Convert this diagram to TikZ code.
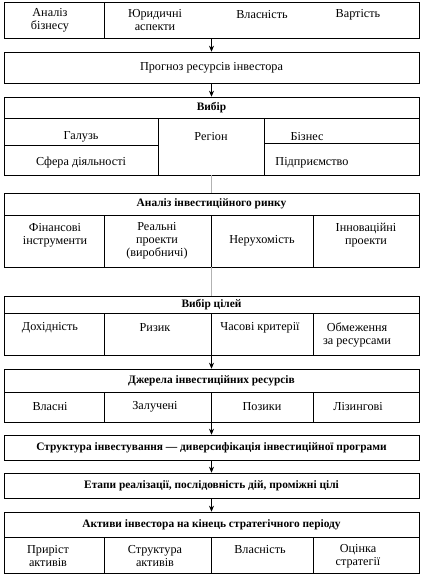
\documentclass[tikz,border=0pt]{standalone}
\usepackage{fontspec}
\setmainfont{Liberation Serif}
\usetikzlibrary{arrows.meta}

\begin{document}
\begin{tikzpicture}[x=1pt,y=-1pt,>={Stealth[length=6pt,width=5pt]},line width=0.6pt,
    box/.style={draw,minimum width=415pt,inner sep=0pt},
    cell/.style={align=center,inner sep=0pt,font=\fontsize{12.2}{13}\selectfont},
    head/.style={inner sep=0pt,font=\fontsize{11.4}{13}\selectfont\bfseries},
    arr/.style={->},
    link/.style={line width=0.4pt,gray!60}]
  \useasboundingbox (0,0) rectangle (426,574);
  % main boxes
  \node[box,minimum height=36pt] (b1) at (211.5,20) {};
  \node[box,minimum height=31pt] (b2) at (211.5,67.5) {};
  \node[box,minimum height=78pt] (b3) at (211.5,136) {};
  \node[box,minimum height=74pt] (b4) at (211.5,230) {};
  \node[box,minimum height=59pt] (b5) at (211.5,325.5) {};
  \node[box,minimum height=53pt] (b6) at (211.5,395.5) {};
  \node[box,minimum height=25pt] (b7) at (211.5,447.5) {};
  \node[box,minimum height=25pt] (b8) at (211.5,485.5) {};
  \node[box,minimum height=61pt] (b9) at (211.5,542.5) {};
  % inner lines
  \draw (104,2) -- (104,38);
  \draw (4,118) -- (419,118) (158,118) -- (158,175) (264,118) -- (264,175)
    (4,145) -- (158,145) (264,143) -- (419,143);
  \draw (4,215) -- (419,215);
  \draw (4,313) -- (419,313);
  \draw (4,392) -- (419,392);
  \draw (4,537) -- (419,537);
  \foreach \y/\z in {215/267,313/355,392/422,537/573}
    \draw (104,\y) -- (104,\z) (211,\y) -- (211,\z) (313,\y) -- (313,\z);
  % texts
  \node[cell] (t11) at (50,20) {Аналіз\\бізнесу};
  \node[cell] (t12) at (155,20) {Юридичні\\аспекти};
  \node[cell] (t13) at (262,15) {Власність};
  \node[cell] (t14) at (358,15) {Вартість};
  \node[cell] (t2) at (211.5,67.5) {Прогноз ресурсів інвестора};
  \node[head] (h3) at (211.5,107.5) {Вибір};
  \node[cell] (t31) at (81,137) {Галузь};
  \node[cell] (t32) at (81,163) {Сфера діяльності};
  \node[cell] (t33) at (211,137) {Регіон};
  \node[cell] (t34) at (307,137) {Бізнес};
  \node[cell] (t35) at (312,163) {Підприємство};
  \node[head] (h4) at (211.5,204) {Аналіз інвестиційного ринку};
  \node[cell] (t41) at (55,235) {Фінансові\\інструменти};
  \node[cell] (t42) at (157,241) {Реальні\\проекти\\(виробничі)};
  \node[cell] (t43) at (262,241) {Нерухомість};
  \node[cell] (t44) at (366,235) {Інноваційні\\проекти};
  \node[head] (h5) at (211.5,304.5) {Вибір цілей};
  \node[cell] (t51) at (50,328) {Дохідність};
  \node[cell] (t52) at (155,328) {Ризик};
  \node[cell] (t53) at (260,328) {Часові критерії};
  \node[cell] (t54) at (357,334.5) {Обмеження\\за ресурсами};
  \node[head] (h6) at (211.5,381) {Джерела інвестиційних ресурсів};
  \node[cell] (t61) at (50,407) {Власні};
  \node[cell] (t62) at (155,407) {Залучені};
  \node[cell] (t63) at (262,407) {Позики};
  \node[cell] (t64) at (358,407) {Лізингові};
  \node[head] (h7) at (211.5,447.5) {Структура інвестування — диверсифікація інвестиційної програми};
  \node[head] (h8) at (211.5,485.5) {Етапи реалізації, послідовність дій, проміжні цілі};
  \node[head] (h9) at (211.5,524.5) {Активи інвестора на кінець стратегічного періоду};
  \node[cell] (t91) at (48,556) {Приріст\\активів};
  \node[cell] (t92) at (155,556) {Структура\\активів};
  \node[cell] (t93) at (260,550) {Власність};
  \node[cell] (t94) at (358,556) {Оцінка\\стратегії};
  % connectors
  \draw[arr] (b1) -- (b2);
  \draw[arr] (b2) -- (b3);
  \draw[link] (b3) -- (b4);
  \draw[link] (b4) -- (b5);
  \draw[arr] (b5) -- (b6);
  \draw[arr] (b6) -- (b7);
  \draw[arr] (b7) -- (b8);
  \draw[arr] (b8) -- (b9);
\end{tikzpicture}
\end{document}
